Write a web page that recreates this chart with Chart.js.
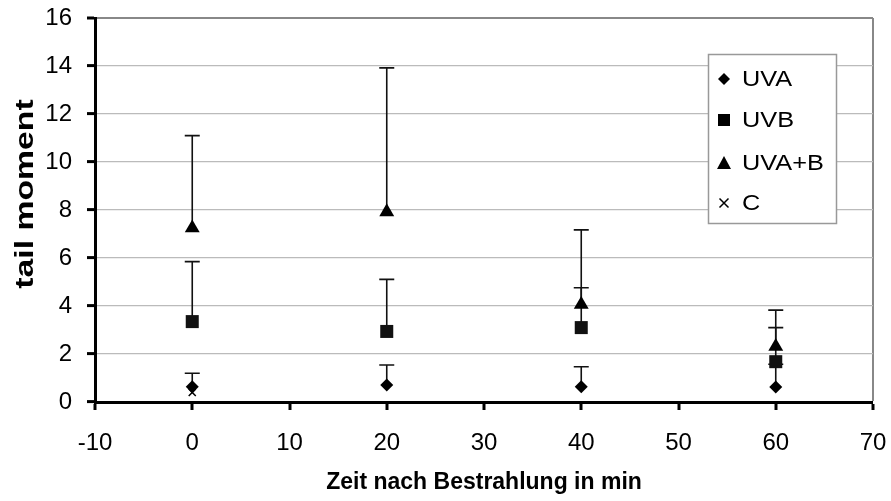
<!DOCTYPE html>
<html>
<head>
<meta charset="utf-8">
<script src="https://cdn.jsdelivr.net/npm/chart.js@4/dist/chart.umd.min.js"></script>
<style>
  html, body { margin: 0; padding: 0; background: #fff; }
  #wrap { width: 891px; height: 501px; position: relative; }
</style>
</head>
<body>
<div id="wrap"><canvas id="tailChart"></canvas></div>
<script>
// Zeit nach Bestrahlung (min)
const times = [0, 20, 40, 60];

// tail moment, Mittelwerte
const uva = [0.64, 0.71, 0.64, 0.62];
const uvb = [3.35, 2.94, 3.1, 1.68];
const uvaB = [7.25, 7.92, 4.06, 2.31];
const kontrolle = [0.4];

// obere Fehlerbalken (nur positive Richtung)
const uvaErr = [0.56, 0.83, 0.83, 0.95];
const uvbErr = [2.5, 2.17, 1.66, 1.42];
const uvaBErr = [3.85, 6.0, 3.11, 1.52];
const kontrolleErr = [0];

const xTicks = [-10, 0, 10, 20, 30, 40, 50, 60, 70];
const yTicks = [0, 2, 4, 6, 8, 10, 12, 14, 16];

const FONT = "'Liberation Sans', Arial, sans-serif";

function points(xs, ys) {
  return ys.map((y, i) => ({ x: xs[i], y: y }));
}

// error bars drawn through the scales
const errorBars = {
  id: "errorBars",
  beforeDatasetsDraw(chart) {
    const ctx = chart.ctx;
    const xs = chart.scales.x, ys = chart.scales.y;
    ctx.save();
    ctx.strokeStyle = "#111";
    ctx.lineWidth = 1.6;
    chart.data.datasets.forEach(ds => {
      if (!ds.errors) return;
      ds.data.forEach((p, i) => {
        const e = ds.errors[i];
        if (!e) return;
        const px = xs.getPixelForValue(p.x);
        const y0 = ys.getPixelForValue(p.y);
        const y1 = ys.getPixelForValue(p.y + e);
        ctx.beginPath();
        ctx.moveTo(px, y0);
        ctx.lineTo(px, y1);
        ctx.moveTo(px - 7.5, y1);
        ctx.lineTo(px + 7.5, y1);
        ctx.stroke();
      });
    });
    ctx.restore();
  }
};

// y axis title, drawn a bit stretched like in the original
const yTitle = {
  id: "yTitle",
  afterDraw(chart) {
    const ctx = chart.ctx;
    ctx.save();
    ctx.translate(33, 194);
    ctx.rotate(-Math.PI / 2);
    ctx.scale(1.35, 1);
    ctx.font = "bold 25px " + FONT;
    ctx.fillStyle = "#000";
    ctx.textAlign = "center";
    ctx.textBaseline = "alphabetic";
    ctx.fillText("tail moment", 0, 0);
    ctx.restore();
  }
};

// boxed legend inside the plot, like Excel
const boxLegend = {
  id: "boxLegend",
  afterDraw(chart) {
    const ctx = chart.ctx;
    const area = chart.chartArea;
    const w = 128, h = 169;
    const left = area.right - 37 - w;
    const top = area.top + 36;
    ctx.save();
    ctx.fillStyle = "#fff";
    ctx.fillRect(left, top, w, h);
    ctx.strokeStyle = "#999";
    ctx.lineWidth = 1.5;
    ctx.strokeRect(left + 0.5, top + 0.5, w, h);

    const labels = ["UVA", "UVB", "UVA+B", "C"];
    const rowY = [25, 66, 109, 149];
    const mx = left + 16;
    ctx.fillStyle = "#000";
    ctx.strokeStyle = "#000";
    labels.forEach((lab, i) => {
      const cy = top + rowY[i];
      ctx.beginPath();
      if (i === 0) {
        ctx.moveTo(mx, cy - 6); ctx.lineTo(mx + 6, cy); ctx.lineTo(mx, cy + 6); ctx.lineTo(mx - 6, cy);
        ctx.closePath(); ctx.fill();
      } else if (i === 1) {
        ctx.fillRect(mx - 6, cy - 6, 12, 12);
      } else if (i === 2) {
        ctx.moveTo(mx, cy - 7); ctx.lineTo(mx + 7, cy + 6); ctx.lineTo(mx - 7, cy + 6);
        ctx.closePath(); ctx.fill();
      } else {
        ctx.lineWidth = 1.5;
        ctx.moveTo(mx - 4.5, cy - 4.5); ctx.lineTo(mx + 4.5, cy + 4.5);
        ctx.moveTo(mx + 4.5, cy - 4.5); ctx.lineTo(mx - 4.5, cy + 4.5);
        ctx.stroke();
      }
      ctx.save();
      ctx.translate(left + 34, cy + 1);
      ctx.scale(1.15, 1);
      ctx.font = "22px " + FONT;
      ctx.textBaseline = "middle";
      ctx.textAlign = "left";
      ctx.fillText(lab, 0, 0);
      ctx.restore();
    });
    ctx.restore();
  }
};

const ctx = document.getElementById("tailChart").getContext("2d");
new Chart(ctx, {
  type: "scatter",
  data: {
    datasets: [
      {
        label: "UVA",
        data: points(times, uva),
        errors: uvaErr,
        pointStyle: "rectRot",
        pointRadius: 6.5,
        backgroundColor: "#000",
        borderColor: "#000",
        borderWidth: 0
      },
      {
        label: "UVB",
        data: points(times, uvb),
        errors: uvbErr,
        pointStyle: "rect",
        pointRadius: 9.2,
        backgroundColor: "#111",
        borderColor: "#111",
        borderWidth: 0
      },
      {
        label: "UVA+B",
        data: points(times, uvaB),
        errors: uvaBErr,
        pointStyle: "triangle",
        pointRadius: 8.6,
        backgroundColor: "#000",
        borderColor: "#000",
        borderWidth: 0
      },
      {
        label: "C",
        data: points(times, kontrolle),
        errors: kontrolleErr,
        pointStyle: "crossRot",
        pointRadius: 5,
        backgroundColor: "#000",
        borderColor: "#000",
        borderWidth: 1.5
      }
    ]
  },
  options: {
    responsive: true,
    maintainAspectRatio: false,
    animation: false,
    layout: { padding: { top: 18, right: 18, left: 0, bottom: 0 } },
    plugins: {
      legend: { display: false },
      tooltip: { enabled: false }
    },
    scales: {
      x: {
        type: "linear",
        min: xTicks[0],
        max: xTicks[xTicks.length - 1],
        afterBuildTicks: s => { s.ticks = xTicks.map(v => ({ value: v })); },
        afterFit: s => {
          s.height = 99;
          s.paddingLeft = 0;
          s.paddingRight = 0;
        },
        border: { color: "#000", width: 3 },
        grid: {
          drawOnChartArea: true,
          color: c => (c.tick && c.tick.value === 70 ? "#888" : "rgba(0,0,0,0)"),
          lineWidth: c => (c.tick && c.tick.value === 70 ? 2 : 0),
          tickColor: "#000",
          tickLength: 8,
          tickWidth: 3
        },
        ticks: {
          color: "#000",
          font: { family: FONT, size: 24 },
          padding: 19,
          maxRotation: 0
        },
        title: {
          display: true,
          text: "Zeit nach Bestrahlung in min",
          color: "#000",
          font: { family: FONT, size: 23, weight: "bold" },
          padding: { top: 6, bottom: 5 }
        }
      },
      y: {
        min: yTicks[0],
        max: yTicks[yTicks.length - 1],
        afterBuildTicks: s => { s.ticks = yTicks.map(v => ({ value: v })); },
        afterFit: s => {
          s.width = 95;
          s.paddingTop = 0;
          s.paddingBottom = 0;
        },
        border: { color: "#000", width: 3 },
        grid: {
          color: c => (c.tick && c.tick.value === 16 ? "#888" : "#bbb"),
          lineWidth: c => (c.tick && c.tick.value === 16 ? 2 : 1.2),
          tickColor: "#000",
          tickLength: 8,
          tickWidth: 3
        },
        ticks: {
          color: "#000",
          font: { family: FONT, size: 24 },
          padding: 15
        },
        title: { display: false }
      }
    }
  },
  plugins: [errorBars, yTitle, boxLegend]
});
</script>
</body>
</html>
